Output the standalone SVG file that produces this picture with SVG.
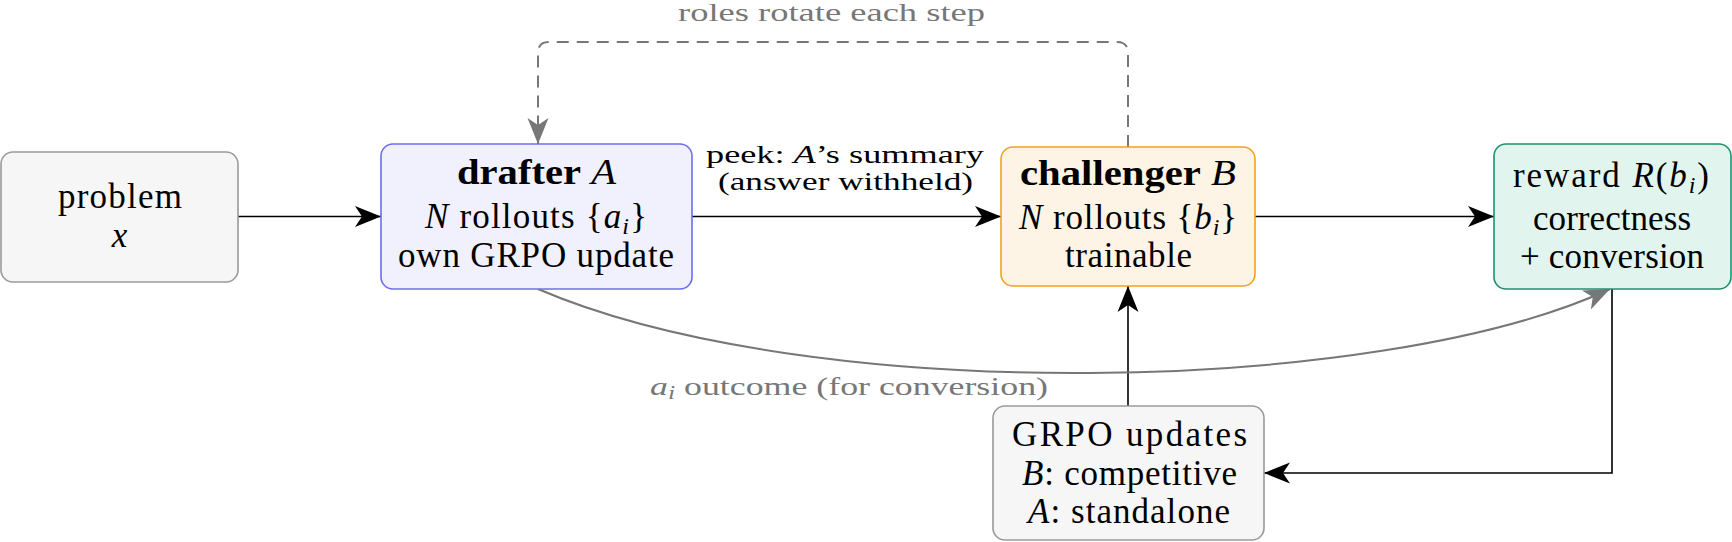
<svg xmlns="http://www.w3.org/2000/svg" width="1732" height="542" viewBox="0 0 1732 542">
<style>
text{font-family:"Liberation Serif","Tinos","DejaVu Serif","Noto Serif","Times New Roman",serif;font-size:35px;fill:#000;text-anchor:middle}
.g{fill:#777}
.e{font-size:25px}
.b{font-weight:bold}
.i{font-style:italic}
.s{font-size:24px;font-style:italic}
.se{font-size:18px;font-style:italic}
.box{stroke-width:1.6}
.ln{fill:none;stroke:#000;stroke-width:1.6}
.gl{fill:none;stroke:#777;stroke-width:2}
</style>
<defs>
<marker id="ah" markerUnits="userSpaceOnUse" markerWidth="28" markerHeight="24" viewBox="0 0 28 24" refX="26" refY="12" orient="auto"><path d="M0,1.5 L26,12 L0,22.5 L7,12 Z" fill="#000"/></marker>
<marker id="ahg" markerUnits="userSpaceOnUse" markerWidth="28" markerHeight="24" viewBox="0 0 28 24" refX="26" refY="12" orient="auto"><path d="M0,1.5 L26,12 L0,22.5 L7,12 Z" fill="#777"/></marker>
</defs>
<g id="connectors">
<path class="ln" d="M238,216.5 L381,216.5" marker-end="url(#ah)"/>
<path class="ln" d="M692,216.5 L1001,216.5" marker-end="url(#ah)"/>
<path class="ln" d="M1255,216.5 L1494,216.5" marker-end="url(#ah)"/>
<path class="ln" d="M1128,406 L1128,286" marker-end="url(#ah)"/>
<path class="ln" d="M1612,289 L1612,473 L1264,473" marker-end="url(#ah)"/>
<path class="gl" d="M538,289 C810,406 1380,396 1610,289" marker-end="url(#ahg)"/>
<path class="gl" stroke-width="1.6" stroke-dasharray="12 8" d="M1128,147 L1128,53 Q1128,42 1117,42 L549,42 Q538,42 538,53 L538,144" marker-end="url(#ahg)"/>
<text class="e" x="845" y="163" textLength="278" lengthAdjust="spacingAndGlyphs">peek:  <tspan class="i">A</tspan>’s summary</text>
<text class="e" x="845.5" y="190" textLength="255" lengthAdjust="spacingAndGlyphs">(answer withheld)</text>
<text class="g e" x="831.5" y="21" textLength="307" lengthAdjust="spacingAndGlyphs">roles rotate each step</text>
<text class="g e" x="849" y="395" textLength="398" lengthAdjust="spacingAndGlyphs"><tspan class="i">a</tspan><tspan class="se" dy="4">i</tspan><tspan dy="-4"> outcome (for conversion)</tspan></text>
</g>
<g id="problem">
<rect class="box" x="1" y="152" width="237" height="130" rx="12" fill="#f6f6f6" stroke="#9a9a9a"/>
<text x="120" y="208" textLength="124">problem</text>
<text x="119.5" y="247" class="i">x</text>
</g>
<g id="drafter">
<rect class="box" x="381" y="144" width="311" height="145" rx="12" fill="#f1f1fd" stroke="#6d6df0"/>
<text x="536.5" y="184" textLength="159" lengthAdjust="spacingAndGlyphs"><tspan class="b">drafter</tspan> <tspan class="i">A</tspan></text>
<text x="536" y="228" textLength="222"><tspan class="i">N</tspan> rollouts {<tspan class="i">a</tspan><tspan class="s" dy="6">i</tspan><tspan dy="-6">}</tspan></text>
<text x="536" y="267" textLength="276">own GRPO update</text>
</g>
<g id="challenger">
<rect class="box" x="1001" y="147" width="254" height="139" rx="12" fill="#fdf4e5" stroke="#f2a31b"/>
<text x="1128" y="185" textLength="216" lengthAdjust="spacingAndGlyphs"><tspan class="b">challenger</tspan> <tspan class="i">B</tspan></text>
<text x="1128" y="229" textLength="218"><tspan class="i">N</tspan> rollouts {<tspan class="i">b</tspan><tspan class="s" dy="6">i</tspan><tspan dy="-6">}</tspan></text>
<text x="1128.5" y="267" textLength="127">trainable</text>
</g>
<g id="reward">
<rect class="box" x="1494" y="144" width="237" height="145" rx="12" fill="#e1f5ee" stroke="#1e9070"/>
<text x="1611" y="187" textLength="196">reward <tspan class="i">R</tspan>(<tspan class="i">b</tspan><tspan class="s" dy="6">i</tspan><tspan dy="-6">)</tspan></text>
<text x="1612" y="230" textLength="158">correctness</text>
<text x="1612" y="268" textLength="184">+ conversion</text>
</g>
<g id="grpo">
<rect class="box" x="993" y="406" width="271" height="134" rx="12" fill="#f6f6f6" stroke="#9a9a9a"/>
<text x="1129.5" y="446" textLength="235">GRPO updates</text>
<text x="1129.5" y="485" textLength="215"><tspan class="i">B</tspan>: competitive</text>
<text x="1129" y="523" textLength="202"><tspan class="i">A</tspan>: standalone</text>
</g>
</svg>
